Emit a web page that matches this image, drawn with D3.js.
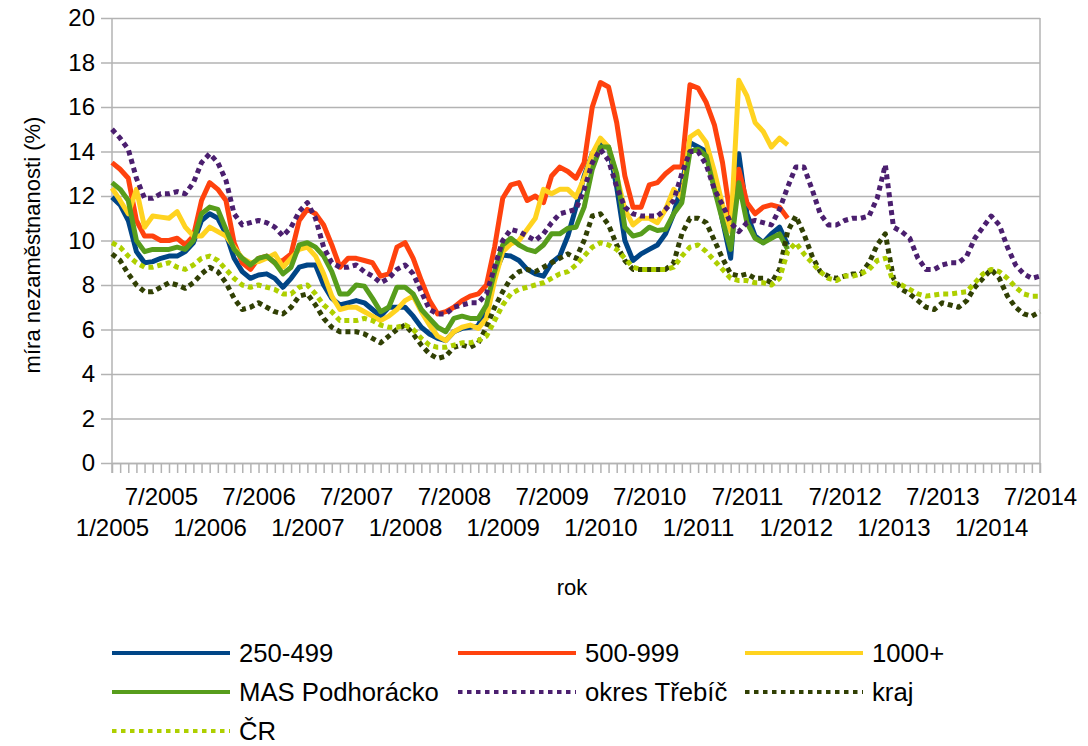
<!DOCTYPE html>
<html>
<head>
<meta charset="utf-8">
<script src="https://cdn.jsdelivr.net/npm/d3@7"></script>
<style>
  body { margin: 0; background: #fff; }
  svg { font-family: "Liberation Sans", Arial, sans-serif; }
</style>
</head>
<body>
<svg id="chart"></svg>
<script>
const width = 1088;
const height = 746;

// months 1/2005 .. 7/2014
const months = [];
for (let y = 2005; y <= 2014; y++) {
  for (let m = 1; m <= 12; m++) {
    if (y === 2014 && m > 7) break;
    months.push(m + "/" + y);
  }
}

const yTicks = [0, 2, 4, 6, 8, 10, 12, 14, 16, 18, 20];

const s250 = [11.95, 11.6, 10.9, 9.5, 9.0, 9.05, 9.2, 9.3, 9.3, 9.5, 9.9, 10.9, 11.2, 11.0, 10.3, 9.2,
  8.6, 8.3, 8.45, 8.5, 8.3, 7.9, 8.3, 8.8, 8.9, 8.9, 8.0, 7.4, 7.1, 7.2, 7.3, 7.2,
  6.9, 6.6, 7.0, 7.0, 7.0, 6.6, 6.1, 5.8, 5.6, 5.5, 5.9, 6.05, 6.1, 6.2, 6.9, 8.5,
  9.35, 9.3, 9.1, 8.7, 8.5, 8.4, 9.0, 9.3, 10.2, 11.5, 12.9, 13.9, 14.4, 14.2, 12.4, 10.0,
  9.1, 9.4, 9.6, 9.8, 10.3, 11.2, 12.5, 14.4, 14.2, 14.0, 12.8, 10.9, 9.2, 13.9, 11.2, 10.2,
  9.9, 10.3, 10.6, 9.8];

const s500 = [13.5, 13.2, 12.8, 10.9, 10.2, 10.2, 10.0, 10.0, 10.1, 9.8, 10.2, 11.8, 12.6, 12.3, 11.8, 9.9,
  9.0, 8.7, 9.2, 9.3, 9.0, 9.1, 9.4, 10.9, 11.4, 11.2, 10.7, 9.8, 8.8, 9.2, 9.2, 9.1,
  9.0, 8.4, 8.5, 9.7, 9.9, 9.2, 8.2, 7.3, 6.7, 6.8, 7.0, 7.3, 7.5, 7.6, 8.0, 9.7,
  11.9, 12.5, 12.6, 11.8, 12.0, 11.7, 12.9, 13.3, 13.1, 12.8, 13.5, 16.0, 17.1, 16.9, 15.3, 12.9,
  11.5, 11.5, 12.5, 12.6, 13.0, 13.3, 13.3, 17.0, 16.85, 16.2, 15.2, 13.5, 11.0, 13.2, 11.7, 11.2,
  11.5, 11.6, 11.5, 11.0];

const s1000 = [12.35, 11.8, 11.2, 12.3, 10.6, 11.1, 11.05, 11.0, 11.3, 10.6, 10.2, 10.2, 10.6, 10.4, 10.2, 9.7,
  9.2, 9.0, 9.05, 9.2, 9.4, 8.8, 9.2, 9.6, 9.7, 9.3, 8.5, 7.5, 6.9, 7.0, 7.0, 6.8,
  6.6, 6.4, 6.6, 6.9, 7.3, 7.5, 6.8, 6.2, 5.7, 5.5, 5.9, 6.1, 6.2, 6.05, 6.5, 8.2,
  9.5, 9.85, 10.0, 10.5, 11.0, 12.3, 12.1, 12.3, 12.3, 11.95, 12.8, 13.9, 14.6, 14.2, 12.9, 11.4,
  10.7, 11.0, 11.0, 10.8, 11.4, 12.3, 11.9, 14.65, 14.9, 14.4, 13.1, 11.6, 10.4, 17.2, 16.5, 15.3,
  14.9, 14.2, 14.6, 14.3];

const sMas = [12.6, 12.3, 11.8, 10.0, 9.5, 9.6, 9.6, 9.6, 9.7, 9.6, 10.0, 11.2, 11.5, 11.4, 10.5, 9.6,
  9.2, 8.9, 9.2, 9.3, 9.0, 8.5, 8.8, 9.8, 9.9, 9.7, 9.3, 8.6, 7.6, 7.6, 8.0, 7.95,
  7.4, 6.8, 7.0, 7.9, 7.9, 7.6, 6.9, 6.5, 6.1, 5.9, 6.5, 6.6, 6.5, 6.5, 7.1, 8.6,
  9.8, 10.1, 9.8, 9.6, 9.5, 9.8, 10.3, 10.3, 10.55, 10.6, 11.5, 13.2, 14.2, 14.2, 13.0, 10.6,
  10.2, 10.3, 10.6, 10.45, 10.5, 11.2, 11.7, 14.0, 14.1, 13.8, 12.3, 10.9, 9.6, 12.6, 10.8, 10.1,
  9.9, 10.1, 10.3, 9.6];

const sOkres = [15.0, 14.6, 14.1, 12.8, 11.9, 11.9, 12.1, 12.1, 12.2, 12.1, 12.6, 13.5, 13.9, 13.5, 12.7, 11.2,
  10.7, 10.8, 10.9, 10.8, 10.6, 10.2, 10.6, 11.3, 11.7, 11.0, 9.7, 9.0, 8.8, 8.8, 8.9, 8.6,
  8.4, 8.1, 8.3, 8.7, 8.9, 8.5, 7.7, 6.9, 6.7, 6.7, 7.0, 7.1, 7.2, 7.2, 7.6, 8.8,
  10.0, 10.5, 10.4, 10.2, 10.0, 10.3, 10.8, 11.2, 11.3, 11.4, 12.3, 13.5, 14.1, 13.6, 12.4, 11.5,
  11.2, 11.1, 11.1, 11.1, 11.4, 11.8, 13.0, 14.0, 14.0, 13.4, 12.3, 11.6, 10.8, 10.4, 10.8, 10.9,
  10.8, 10.7, 11.4, 12.4, 13.3, 13.3, 12.3, 11.2, 10.7, 10.7, 10.9, 11.0, 11.0, 11.1, 11.9, 13.4,
  10.6, 10.4, 10.1, 9.2, 8.7, 8.7, 8.9, 9.0, 9.0, 9.3, 10.1, 10.6, 11.1, 10.7, 9.7, 8.9,
  8.5, 8.3, 8.4];

const sKraj = [9.4, 9.1, 8.5, 8.0, 7.7, 7.7, 7.9, 8.1, 8.0, 7.85, 8.1, 8.5, 8.8, 8.6, 8.1, 7.4,
  6.9, 7.0, 7.2, 7.0, 6.8, 6.7, 7.0, 7.5, 7.6, 7.1, 6.5, 6.1, 5.9, 5.9, 5.9, 5.8,
  5.6, 5.4, 5.7, 6.0, 6.2, 5.8, 5.3, 4.9, 4.7, 4.8, 5.2, 5.3, 5.2, 5.4, 6.1, 7.0,
  7.7, 8.3, 8.6, 8.7, 8.6, 8.8, 9.0, 9.2, 9.4, 9.2, 10.0, 11.1, 11.2, 10.7, 9.8, 9.1,
  8.7, 8.7, 8.7, 8.7, 8.7, 9.0, 10.3, 11.0, 11.0, 10.8, 10.0, 9.2, 8.5, 8.4, 8.5, 8.3,
  8.3, 8.1, 8.7, 10.4, 11.1, 10.3, 9.3, 8.6, 8.4, 8.3, 8.4, 8.5, 8.5, 9.0, 9.8, 10.3,
  8.3, 7.8, 7.6, 7.3, 7.0, 6.9, 7.2, 7.1, 7.0, 7.3, 7.9, 8.3, 8.7, 8.3, 7.5, 7.0,
  6.7, 6.6, 6.8];

const sCr = [9.9, 9.7, 9.3, 9.0, 8.8, 8.8, 8.9, 9.0, 8.8, 8.7, 8.9, 9.2, 9.3, 9.1, 8.7, 8.3,
  8.0, 7.9, 8.0, 7.9, 7.8, 7.6, 7.6, 7.9, 8.0, 7.6, 7.1, 6.8, 6.4, 6.4, 6.4, 6.5,
  6.4, 6.2, 6.1, 6.1, 6.2, 6.0, 5.6, 5.3, 5.2, 5.2, 5.3, 5.4, 5.4, 5.5, 5.7, 6.4,
  7.1, 7.6, 7.8, 7.9, 8.0, 8.1, 8.3, 8.5, 8.6, 8.9, 9.3, 9.7, 9.9, 9.8, 9.6, 9.2,
  8.8, 8.7, 8.7, 8.7, 8.7, 8.8, 9.3, 9.7, 9.8, 9.5, 9.1, 8.7, 8.3, 8.2, 8.2, 8.1,
  8.1, 8.0, 8.3, 9.5, 9.9, 9.4, 9.0, 8.6, 8.3, 8.2, 8.4, 8.4, 8.5, 8.7, 9.1, 9.2,
  8.1, 8.0, 7.8, 7.6, 7.5, 7.55, 7.6, 7.6, 7.65, 7.7, 8.1, 8.5, 8.7, 8.6, 8.3, 7.9,
  7.6, 7.5, 7.5];

const seriesNames = ["250-499", "500-999", "1000+", "MAS Podhorácko", "okres Třebíč", "kraj", "ČR"];
const seriesValues = [s250, s500, s1000, sMas, sOkres, sKraj, sCr];
const seriesColors = ["#004586", "#ff420e", "#ffd320", "#579d1c", "#4b1f6f", "#314004", "#aecf00"];
const seriesDotted = [false, false, false, false, true, true, true];

const plot = { left: 112, right: 1040, top: 18, bottom: 463 };

const svg = d3.select("#chart").attr("width", width).attr("height", height);

const x = d3.scalePoint().domain(months).range([plot.left, plot.right]);
const y = d3.scaleLinear().domain([0, 20]).range([plot.bottom, plot.top]);

// gridlines
svg.append("g")
  .attr("transform", `translate(${plot.left},0)`)
  .call(d3.axisLeft(y).tickValues(yTicks).tickSize(-(plot.right - plot.left)).tickFormat(""))
  .call((g) => g.select(".domain").remove())
  .selectAll("line")
  .attr("stroke", "#b3b3b3")
  .attr("stroke-width", 1.5);

// right wall
svg.append("line")
  .attr("x1", plot.right).attr("x2", plot.right)
  .attr("y1", plot.top).attr("y2", plot.bottom + 10)
  .attr("stroke", "#b3b3b3").attr("stroke-width", 1.5);

// y axis
const yAxis = svg.append("g")
  .attr("transform", `translate(${plot.left},0)`)
  .call(d3.axisLeft(y).tickValues(yTicks).tickSize(11).tickPadding(6));
yAxis.select(".domain").attr("stroke", "#b3b3b3").attr("stroke-width", 1.5)
  .attr("d", `M0,${plot.top}V${plot.bottom + 10}`);
yAxis.selectAll("line").attr("stroke", "#b3b3b3").attr("stroke-width", 1.5);
yAxis.selectAll("text").attr("font-size", 24).attr("fill", "#000")
  .attr("font-family", "Liberation Sans, Arial, sans-serif");

// x axis
const xAxis = svg.append("g")
  .attr("transform", `translate(0,${plot.bottom})`)
  .call(d3.axisBottom(x).tickSize(10).tickSizeOuter(0));
xAxis.select(".domain").attr("stroke", "#b3b3b3").attr("stroke-width", 1.5);
xAxis.selectAll("line").attr("stroke", "#b3b3b3").attr("stroke-width", 1.5);
xAxis.selectAll("text")
  .attr("font-size", 24).attr("fill", "#000")
  .attr("font-family", "Liberation Sans, Arial, sans-serif")
  .attr("dy", null)
  .attr("y", (d) => (d.startsWith("1/") ? 73 : 42))
  .text((d) => (d.startsWith("1/") || d.startsWith("7/") ? d : ""));

// series lines
const line = d3.line()
  .x((d, i) => x(months[i]))
  .y((d) => y(d));

seriesValues.forEach((vals, k) => {
  svg.append("path")
    .datum(vals)
    .attr("fill", "none")
    .attr("stroke", seriesColors[k])
    .attr("stroke-width", 5)
    .attr("stroke-linejoin", "round")
    .attr("stroke-dasharray", seriesDotted[k] ? "5,4" : null)
    .attr("d", line);
});

// axis titles
svg.append("text")
  .attr("x", 572).attr("y", 595)
  .attr("text-anchor", "middle")
  .attr("font-size", 22)
  .text("rok");

svg.append("text")
  .attr("transform", "translate(40,245) rotate(-90)")
  .attr("text-anchor", "middle")
  .attr("font-size", 22)
  .text("míra nezaměstnanosti (%)");

// legend
const legendCols = [112, 458, 745];
const legendRows = [653, 692, 731];
const legend = svg.append("g");
seriesNames.forEach((name, k) => {
  const cx = legendCols[k % 3];
  const cy = legendRows[Math.floor(k / 3)];
  legend.append("line")
    .attr("x1", cx).attr("x2", cx + 118)
    .attr("y1", cy).attr("y2", cy)
    .attr("stroke", seriesColors[k])
    .attr("stroke-width", 4)
    .attr("stroke-dasharray", seriesDotted[k] ? "4.5,4.5" : null);
  legend.append("text")
    .attr("x", cx + 127).attr("y", cy)
    .attr("dy", "0.36em")
    .attr("font-size", 25.7)
    .text(name);
});
</script>
</body>
</html>
